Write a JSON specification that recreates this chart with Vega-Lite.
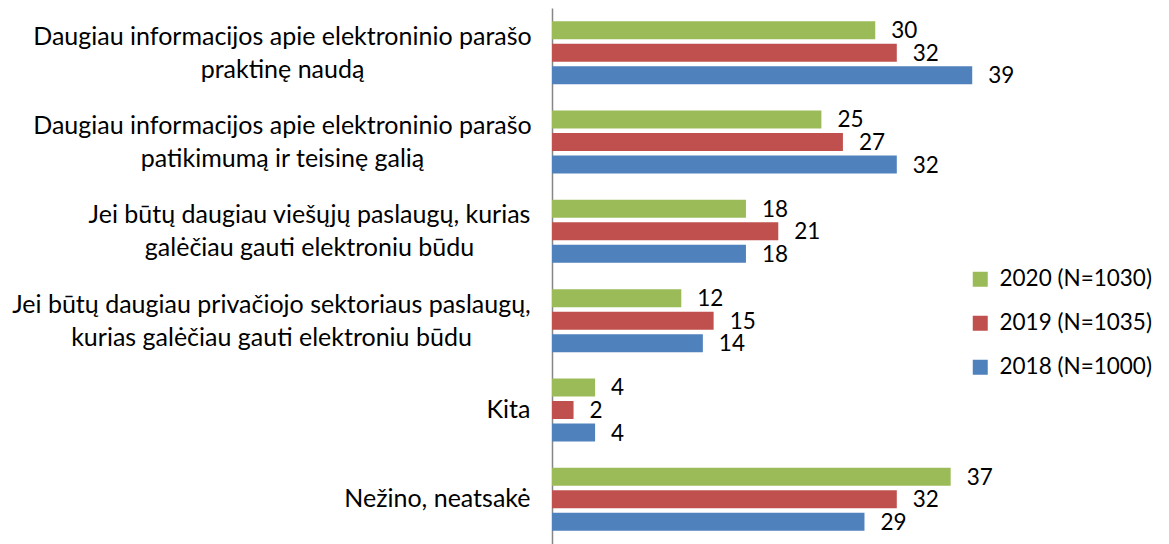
{
  "$schema": "https://vega.github.io/schema/vega-lite/v6.json",
  "autosize": "none",
  "width": 431,
  "height": 536,
  "padding": {"left": 552, "top": 8, "right": 186, "bottom": 0},
  "background": "white",
  "config": {"view": {"stroke": null}, "font": "Lato"},
  "data": {
    "values": [
      {"cat": "Daugiau informacijos apie elektroninio parašo praktinę naudą", "year": "2020 (N=1030)", "value": 30},
      {"cat": "Daugiau informacijos apie elektroninio parašo praktinę naudą", "year": "2019 (N=1035)", "value": 32},
      {"cat": "Daugiau informacijos apie elektroninio parašo praktinę naudą", "year": "2018 (N=1000)", "value": 39},
      {"cat": "Daugiau informacijos apie elektroninio parašo patikimumą ir teisinę galią", "year": "2020 (N=1030)", "value": 25},
      {"cat": "Daugiau informacijos apie elektroninio parašo patikimumą ir teisinę galią", "year": "2019 (N=1035)", "value": 27},
      {"cat": "Daugiau informacijos apie elektroninio parašo patikimumą ir teisinę galią", "year": "2018 (N=1000)", "value": 32},
      {"cat": "Jei būtų daugiau viešųjų paslaugų, kurias galėčiau gauti elektroniu būdu", "year": "2020 (N=1030)", "value": 18},
      {"cat": "Jei būtų daugiau viešųjų paslaugų, kurias galėčiau gauti elektroniu būdu", "year": "2019 (N=1035)", "value": 21},
      {"cat": "Jei būtų daugiau viešųjų paslaugų, kurias galėčiau gauti elektroniu būdu", "year": "2018 (N=1000)", "value": 18},
      {"cat": "Jei būtų daugiau privačiojo sektoriaus paslaugų, kurias galėčiau gauti elektroniu būdu", "year": "2020 (N=1030)", "value": 12},
      {"cat": "Jei būtų daugiau privačiojo sektoriaus paslaugų, kurias galėčiau gauti elektroniu būdu", "year": "2019 (N=1035)", "value": 15},
      {"cat": "Jei būtų daugiau privačiojo sektoriaus paslaugų, kurias galėčiau gauti elektroniu būdu", "year": "2018 (N=1000)", "value": 14},
      {"cat": "Kita", "year": "2020 (N=1030)", "value": 4},
      {"cat": "Kita", "year": "2019 (N=1035)", "value": 2},
      {"cat": "Kita", "year": "2018 (N=1000)", "value": 4},
      {"cat": "Nežino, neatsakė", "year": "2020 (N=1030)", "value": 37},
      {"cat": "Nežino, neatsakė", "year": "2019 (N=1035)", "value": 32},
      {"cat": "Nežino, neatsakė", "year": "2018 (N=1000)", "value": 29}
    ]
  },
  "encoding": {
    "y": {
      "field": "cat",
      "type": "nominal",
      "sort": null,
      "scale": {"paddingInner": 0, "paddingOuter": 0},
      "axis": {
        "title": null,
        "ticks": false,
        "domainColor": "#868686",
        "domainWidth": 1.5,
        "labelFontSize": 25,
        "labelColor": "black",
        "labelLimit": 600,
        "labelLineHeight": 33,
        "labelAlign": {"condition": {"test": "datum.value == 'Kita' || datum.value == 'Nežino, neatsakė'", "value": "right"}, "value": "center"},
        "labelPadding": {"condition": [
          {"test": "datum.value == 'Kita' || datum.value == 'Nežino, neatsakė'", "value": 22},
          {"test": "indexof(datum.value, 'viešųjų') >= 0", "value": 243},
          {"test": "indexof(datum.value, 'privačiojo') >= 0", "value": 281}
        ], "value": 270},
        "labelOffset": {"condition": {"test": "datum.value == 'Kita' || datum.value == 'Nežino, neatsakė'", "value": 0}, "value": -16},
        "labelExpr": "datum.label == 'Daugiau informacijos apie elektroninio parašo praktinę naudą' ? ['Daugiau informacijos apie elektroninio parašo', 'praktinę naudą'] : datum.label == 'Daugiau informacijos apie elektroninio parašo patikimumą ir teisinę galią' ? ['Daugiau informacijos apie elektroninio parašo', 'patikimumą ir teisinę galią'] : datum.label == 'Jei būtų daugiau viešųjų paslaugų, kurias galėčiau gauti elektroniu būdu' ? ['Jei būtų daugiau viešųjų paslaugų, kurias', 'galėčiau gauti elektroniu būdu'] : datum.label == 'Jei būtų daugiau privačiojo sektoriaus paslaugų, kurias galėčiau gauti elektroniu būdu' ? ['Jei būtų daugiau privačiojo sektoriaus paslaugų,', 'kurias galėčiau gauti elektroniu būdu'] : datum.label"
      }
    },
    "yOffset": {
      "field": "year",
      "type": "nominal",
      "sort": ["2020 (N=1030)", "2019 (N=1035)", "2018 (N=1000)"],
      "scale": {"paddingInner": 0.2, "paddingOuter": 0.585}
    },
    "x": {
      "field": "value",
      "type": "quantitative",
      "scale": {"domain": [0, 40], "nice": false},
      "axis": null
    }
  },
  "layer": [
    {
      "mark": {"type": "bar"},
      "encoding": {
        "color": {
          "field": "year",
          "type": "nominal",
          "scale": {
            "domain": ["2020 (N=1030)", "2019 (N=1035)", "2018 (N=1000)"],
            "range": ["#9BBB59", "#C0504D", "#4F81BD"]
          },
          "legend": {
            "title": null,
            "orient": "none",
            "legendX": 417,
            "legendY": 260,
            "padding": 0,
            "symbolType": "square",
            "symbolSize": 225,
            "symbolStrokeWidth": 0,
            "labelFontSize": 22.5,
            "labelColor": "black",
            "labelOffset": 8,
            "rowPadding": 21
          }
        }
      }
    },
    {
      "mark": {"type": "text", "align": "left", "baseline": "middle", "dx": 16, "dy": 1, "fontSize": 22.5, "color": "black"},
      "encoding": {
        "text": {"field": "value", "type": "quantitative"}
      }
    }
  ]
}
